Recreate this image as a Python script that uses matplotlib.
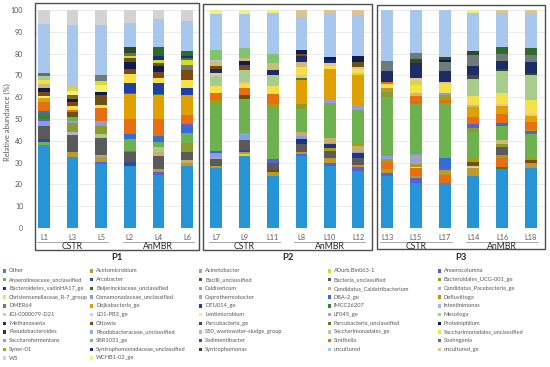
import matplotlib
matplotlib.use("Agg")
import matplotlib.pyplot as plt
from matplotlib.patches import Rectangle
from matplotlib.transforms import blended_transform_factory

plt.rcParams['font.family'] = ['Lato', 'DejaVu Sans']

# legend order (bottom -> top in the original stacking)
series = ["Other", "Acetomicrobium", "Acinetobacter", "ADurb.Bin063-1", "Anaerocolumna",
          "Anaerolineaceae_unclassified", "Arcobacter", "Bacilli_unclassified", "Bacteria_unclassified", "Bacteroidales_UCG-001_ge",
          "Bacteroidetes_vadinHA17_ge", "Beijerinckiaceae_unclassified", "Caldisericum", "Candidatus_Caldatribacterium", "Candidatus_Pacebacteria_ge",
          "Christensenellaceae_R-7_group", "Comamonadaceae_unclassified", "Coprothermobacter", "DBA-2_ge", "Defluviitoga",
          "DMER64", "Dojkabacteria_ge", "DTU014_ge", "IMCC26207", "Intestinimonas",
          "JGI-0000079-D21", "LD1-PB3_ge", "Lentimicrobium", "LF045_ge", "Mesotoga",
          "Methanosaeta", "Ottowia", "Parcubacteria_ge", "Parcubacteria_unclassified", "Proteiniphilum",
          "Pseudobacteroides", "Rhodobacteraceae_unclassified", "S50_wastewater-sludge_group", "Saccharimonadales_ge", "Saccharimonadales_unclassified",
          "Saccharofermentans", "SBR1031_ge", "Sedimentibacter", "Smithella", "Soehngenia",
          "Syner-01", "Syntrophomonadaceae_unclassified", "Syntrophomonas", "uncultured", "uncultured_ge",
          "W5", "WCHB1-02_ge"]

colors = ["#2794D8", "#B89B2C", "#A6A6A6", "#D4DC2A", "#5B5FD6",
          "#6DB24E", "#2E4A9E", "#6B5212", "#5A5A5A", "#8C9A2E",
          "#1F3480", "#2F6B2A", "#8E9CE6", "#C9AE6A", "#B3B3C4",
          "#F5E04A", "#7DA6E8", "#9DB98A", "#2F6FD6", "#C0940F",
          "#6E7B7B", "#E0A000", "#1F3FA8", "#3C7F35", "#A7B7E6",
          "#E6C596", "#D4D4D4", "#F2EE7A", "#9CA6E2", "#A8CC8E",
          "#1D2C66", "#7A4A12", "#474747", "#7F6A1E", "#121A52",
          "#24401C", "#93B2E6", "#CDBB7E", "#C2C2C2", "#EDE84A",
          "#9B9BE3", "#82C46E", "#2E4FC2", "#E86E12", "#6B6B6B",
          "#A2A012", "#1B2B86", "#2E4B22", "#A7C8EC", "#DCC392",
          "#D3D3D3", "#EEF08C"]

# relative abundance (%) per sample, segments listed bottom -> top
L1 = [("Other", 38), ("Anaerolineaceae_unclassified", 1.5), ("Arcobacter", 1.5), ("Bacteria_unclassified", 6),
      ("Caldisericum", 2), ("Anaerocolumna", 1), ("IMCC26207", 2.5), ("DBA-2_ge", 1), ("Smithella", 4.5),
      ("Dojkabacteria_ge", 1.5), ("Lentimicrobium", 1), ("Ottowia", 2), ("Proteiniphilum", 1.5),
      ("S50_wastewater-sludge_group", 2), ("Christensenellaceae_R-7_group", 2), ("Mesotoga", 1.5),
      ("Soehngenia", 1.5), ("uncultured", 22.5), ("W5", 6.5)]
L3 = [("Other", 32.5), ("Acetomicrobium", 2.5), ("Bacteria_unclassified", 7.5), ("Candidatus_Pacebacteria_ge", 1.5),
      ("Bacteroidales_UCG-001_ge", 4), ("Caldisericum", 1), ("Anaerolineaceae_unclassified", 2),
      ("Bacilli_unclassified", 2), ("Smithella", 1), ("Christensenellaceae_R-7_group", 2), ("Ottowia", 2),
      ("Proteiniphilum", 1), ("Parcubacteria_unclassified", 2), ("Lentimicrobium", 2), ("ADurb.Bin063-1", 1),
      ("Saccharimonadales_ge", 2), ("uncultured", 27), ("W5", 7)]
L5 = [("Other", 29.5), ("Anaerocolumna", 1), ("Acetomicrobium", 2), ("Acinetobacter", 1), ("Bacteria_unclassified", 8),
      ("Mesotoga", 1.5), ("Bacteroidales_UCG-001_ge", 4), ("Caldisericum", 1), ("Saccharofermentans", 1),
      ("Smithella", 6), ("Christensenellaceae_R-7_group", 1.5), ("Bacilli_unclassified", 2.5), ("Ottowia", 2),
      ("Proteiniphilum", 1.5), ("Lentimicrobium", 3), ("ADurb.Bin063-1", 2), ("DMER64", 2.5),
      ("uncultured", 23), ("W5", 7)]
L2 = [("Other", 28.5), ("Arcobacter", 2), ("Bacteria_unclassified", 4.5), ("DMER64", 0.5),
      ("Anaerolineaceae_unclassified", 5.5), ("DBA-2_ge", 2), ("Smithella", 7), ("Dojkabacteria_ge", 11.5),
      ("IMCC26207", 0.5), ("DTU014_ge", 4.5), ("Christensenellaceae_R-7_group", 4), ("Ottowia", 2.5),
      ("Proteiniphilum", 3), ("Bacilli_unclassified", 2), ("ADurb.Bin063-1", 1), ("Soehngenia", 1.5),
      ("Syntrophomonas", 2.5), ("uncultured", 11), ("W5", 6)]
L4 = [("Other", 24.5), ("Anaerocolumna", 1), ("Acetomicrobium", 1.5), ("Bacteria_unclassified", 6),
      ("Candidatus_Caldatribacterium", 2), ("Mesotoga", 2), ("Anaerolineaceae_unclassified", 2.5), ("DBA-2_ge", 2.5),
      ("Smithella", 8), ("Dojkabacteria_ge", 11), ("IMCC26207", 0.5), ("DTU014_ge", 5),
      ("Christensenellaceae_R-7_group", 2.5), ("Ottowia", 2.5), ("Proteiniphilum", 3), ("Bacilli_unclassified", 1),
      ("ADurb.Bin063-1", 1.5), ("Syntrophomonadaceae_unclassified", 2), ("Beijerinckiaceae_unclassified", 4),
      ("uncultured", 13), ("W5", 4)]
L6 = [("Other", 28.5), ("Acetomicrobium", 1.5), ("Candidatus_Caldatribacterium", 1), ("Bacteria_unclassified", 4),
      ("Bacteroidales_UCG-001_ge", 4), ("Anaerolineaceae_unclassified", 4.5), ("DBA-2_ge", 2.5), ("Anaerocolumna", 1.5),
      ("Smithella", 4.5), ("Dojkabacteria_ge", 9), ("DTU014_ge", 3), ("Christensenellaceae_R-7_group", 4),
      ("Ottowia", 4.5), ("DMER64", 2.5), ("ADurb.Bin063-1", 2), ("IMCC26207", 1),
      ("Syntrophomonadaceae_unclassified", 1), ("Beijerinckiaceae_unclassified", 2), ("uncultured", 14), ("W5", 5)]

L7 = [("Other", 27.5), ("Acetomicrobium", 1), ("Bacteria_unclassified", 3), ("Acinetobacter", 1), ("Caldisericum", 2),
      ("DBA-2_ge", 1), ("Anaerolineaceae_unclassified", 21.5), ("Syner-01", 1.5), ("Smithella", 3.5),
      ("Christensenellaceae_R-7_group", 3), ("Mesotoga", 4.5), ("JGI-0000079-D21", 1.5), ("Methanosaeta", 2),
      ("Ottowia", 1.5), ("S50_wastewater-sludge_group", 1.5), ("Saccharimonadales_ge", 1), ("SBR1031_ge", 4.5),
      ("uncultured", 16.5), ("WCHB1-02_ge", 2)]
L9 = [("Other", 33), ("ADurb.Bin063-1", 1), ("Acetomicrobium", 1), ("Arcobacter", 1), ("Bacteria_unclassified", 4.5),
      ("Comamonadaceae_unclassified", 3), ("Anaerolineaceae_unclassified", 15.5), ("Bacilli_unclassified", 2),
      ("Smithella", 3), ("Christensenellaceae_R-7_group", 2), ("JGI-0000079-D21", 1), ("Mesotoga", 5.5),
      ("Ottowia", 2.5), ("Proteiniphilum", 1.5), ("S50_wastewater-sludge_group", 1.5), ("SBR1031_ge", 4.5),
      ("uncultured", 15.5), ("WCHB1-02_ge", 2)]
L11 = [("Other", 24), ("Acetomicrobium", 1.5), ("Bacilli_unclassified", 1), ("Bacteria_unclassified", 3.5),
       ("Anaerocolumna", 1.5), ("Anaerolineaceae_unclassified", 24), ("Syner-01", 1.5), ("Smithella", 4.5),
       ("Christensenellaceae_R-7_group", 3.5), ("Mesotoga", 5), ("Methanosaeta", 2.5),
       ("S50_wastewater-sludge_group", 3), ("SBR1031_ge", 4.5), ("uncultured", 18.5), ("WCHB1-02_ge", 1.5)]
L8 = [("Other", 33), ("Anaerocolumna", 1), ("Acetomicrobium", 1), ("Bacteria_unclassified", 3.5),
      ("Bacteroidetes_vadinHA17_ge", 2.5), ("Caldisericum", 1), ("Candidatus_Caldatribacterium", 2),
      ("Anaerolineaceae_unclassified", 10.5), ("Bacteroidales_UCG-001_ge", 2.5), ("Dojkabacteria_ge", 11),
      ("IMCC26207", 1), ("JGI-0000079-D21", 1), ("Christensenellaceae_R-7_group", 4),
      ("S50_wastewater-sludge_group", 2), ("Methanosaeta", 3), ("Ottowia", 1), ("Proteiniphilum", 1.5),
      ("uncultured", 15.5), ("uncultured_ge", 3)]
L10 = [("Other", 28.5), ("Anaerocolumna", 1.5), ("Acetomicrobium", 2), ("Bacteria_unclassified", 3.5), ("Syner-01", 1),
       ("Bacteroidetes_vadinHA17_ge", 2), ("Caldisericum", 0.5), ("Candidatus_Caldatribacterium", 2.5),
       ("Anaerolineaceae_unclassified", 16), ("Saccharofermentans", 1), ("Dojkabacteria_ge", 14.5),
       ("Christensenellaceae_R-7_group", 1.5), ("JGI-0000079-D21", 1), ("Methanosaeta", 1.5),
       ("Proteiniphilum", 1.5), ("uncultured", 19.5), ("uncultured_ge", 2)]
L12 = [("Other", 26), ("Anaerocolumna", 2), ("Acetomicrobium", 1), ("Bacteria_unclassified", 3),
       ("Bacteroidetes_vadinHA17_ge", 2.5), ("Caldisericum", 0.5), ("Candidatus_Caldatribacterium", 2.5),
       ("Syner-01", 1), ("Anaerolineaceae_unclassified", 15.5), ("Saccharofermentans", 2), ("Dojkabacteria_ge", 14),
       ("ADurb.Bin063-1", 1), ("Christensenellaceae_R-7_group", 2), ("JGI-0000079-D21", 1),
       ("Bacilli_unclassified", 2), ("Proteiniphilum", 3), ("uncultured", 18.5), ("uncultured_ge", 2.5)]

L13 = [("Other", 24), ("Anaerocolumna", 1), ("Acetomicrobium", 2), ("Smithella", 3.5), ("Syner-01", 1),
       ("Saccharofermentans", 1.5), ("Anaerolineaceae_unclassified", 27), ("Bacteroidales_UCG-001_ge", 2.5),
       ("Acetomicrobium", 1.5), ("Christensenellaceae_R-7_group", 2), ("Smithella", 1), ("Methanosaeta", 5),
       ("DMER64", 4.5), ("uncultured", 23.5)]
L15 = [("Other", 20.5), ("Anaerocolumna", 2.5), ("Acetomicrobium", 1), ("Smithella", 3.5), ("JGI-0000079-D21", 0.5),
       ("Syner-01", 1.5), ("Saccharofermentans", 2), ("Acinetobacter", 1.5), ("Comamonadaceae_unclassified", 1),
       ("Anaerolineaceae_unclassified", 23), ("Smithella", 3.5), ("S50_wastewater-sludge_group", 1.5),
       ("Christensenellaceae_R-7_group", 3.5), ("ADurb.Bin063-1", 2), ("JGI-0000079-D21", 1.5),
       ("Methanosaeta", 6.5), ("Syntrophomonas", 2), ("DMER64", 3), ("uncultured", 19.5)]
L17 = [("Other", 20.5), ("Smithella", 4), ("Acetomicrobium", 2), ("Anaerocolumna", 1), ("DBA-2_ge", 4.5),
       ("Anaerolineaceae_unclassified", 25.5), ("Smithella", 1), ("Syner-01", 2.5), ("Caldisericum", 1),
       ("Christensenellaceae_R-7_group", 4), ("JGI-0000079-D21", 1), ("Methanosaeta", 5), ("DMER64", 4),
       ("Proteiniphilum", 1), ("Syntrophomonas", 1.5), ("uncultured", 21.5)]
L14 = [("Other", 24), ("Acetomicrobium", 3.5), ("JGI-0000079-D21", 1), ("Bacilli_unclassified", 2), ("Syner-01", 2),
       ("Anaerolineaceae_unclassified", 11.5), ("Bacteroidales_UCG-001_ge", 2), ("Anaerocolumna", 1.5),
       ("Smithella", 3.5), ("Dojkabacteria_ge", 4.5), ("S50_wastewater-sludge_group", 1),
       ("Christensenellaceae_R-7_group", 4), ("Mesotoga", 8), ("Parcubacteria_ge", 1.5), ("Methanosaeta", 4.5),
       ("DMER64", 5), ("Syntrophomonas", 1.5), ("uncultured", 17.5), ("WCHB1-02_ge", 1.5)]
L16 = [("Other", 27), ("IMCC26207", 1), ("Smithella", 4), ("Syner-01", 1.5), ("Bacteria_unclassified", 3.5),
       ("Bacteroidales_UCG-001_ge", 1.5), ("S50_wastewater-sludge_group", 2), ("Anaerolineaceae_unclassified", 6.5),
       ("DBA-2_ge", 1), ("Smithella", 4.5), ("Dojkabacteria_ge", 3.5), ("JGI-0000079-D21", 1),
       ("Christensenellaceae_R-7_group", 5), ("Mesotoga", 10), ("Syntrophomonas", 1), ("Methanosaeta", 3.5),
       ("DMER64", 3.5), ("Beijerinckiaceae_unclassified", 3), ("uncultured", 15.5), ("uncultured_ge", 1.5)]
L18 = [("Other", 27.5), ("Acetomicrobium", 2.5), ("Ottowia", 1), ("Syner-01", 1.5),
       ("Anaerolineaceae_unclassified", 10.5), ("Anaerocolumna", 1.5), ("Syner-01", 1), ("Smithella", 3),
       ("Dojkabacteria_ge", 3), ("JGI-0000079-D21", 1), ("Christensenellaceae_R-7_group", 6), ("Mesotoga", 11.5),
       ("Syntrophomonas", 1), ("Methanosaeta", 5), ("DMER64", 3.5), ("Beijerinckiaceae_unclassified", 3),
       ("uncultured", 16), ("uncultured_ge", 1.5)]

sample_labels = [["L1", "L3", "L5", "L2", "L4", "L6"],
                 ["L7", "L9", "L11", "L8", "L10", "L12"],
                 ["L13", "L15", "L17", "L14", "L16", "L18"]]
sample_data = [[L1, L3, L5, L2, L4, L6],
               [L7, L9, L11, L8, L10, L12],
               [L13, L15, L17, L14, L16, L18]]
panel_titles = ["P1", "P2", "P3"]
groups = ["CSTR", "AnMBR"]

color_of = dict(zip(series, colors))

W, H = 550, 367
fig = plt.figure(figsize=(5.5, 3.67), dpi=100)


def fx(px):
    return px / W


def fy(py):
    return 1 - py / H


# pixel geometry of the three boxes: left, top, right, bottom, first bar, last bar
boxes = [(35, 3, 199, 250, 44, 187),
         (203, 4, 372, 250, 216, 358.3),
         (377, 5, 545, 249, 387.3, 530.7)]
plot_top, plot_bot = 10, 228

for k in range(3):
    bl, bt, br, bb, c0, c5 = boxes[k]
    sp = (c5 - c0) / 5
    ax = fig.add_axes([fx(bl), fy(plot_bot), (br - bl) / W, (plot_bot - plot_top) / H])
    for i, segs in enumerate(sample_data[k]):
        bottom = 0
        for name, v in segs:
            ax.bar(i, v, bottom=bottom, width=0.41, color=color_of[name], linewidth=0)
            bottom += v
    ax.set_xlim(-(c0 - bl) / sp, 5 + (br - c5) / sp)
    ax.set_ylim(0, 100)
    ax.set_yticks(range(0, 101, 10))
    ax.yaxis.grid(True, color="#E3E3E3", lw=0.5)
    ax.set_axisbelow(True)
    for s in ax.spines.values():
        s.set_visible(False)
    ax.set_xticks([])
    ax.tick_params(axis="y", length=0, labelsize=5.0, labelcolor="#595959", pad=8.5)
    if k > 0:
        ax.set_yticklabels([])

    tr = blended_transform_factory(ax.transData, fig.transFigure)
    for i, lab in enumerate(sample_labels[k]):
        ax.text(i, fy(237.5), lab, transform=tr, ha="center", va="center",
                fontsize=5.3, color="#595959")
    for g in range(2):
        ax.plot([3 * g - 0.25, 3 * g + 2.25], [fy(241.5)] * 2, transform=tr,
                color="#9A9A9A", lw=0.6, clip_on=False)
        ax.text(3 * g + 1, fy(246.5), groups[g], transform=tr, ha="center", va="center",
                fontsize=6.3, color="#262626")

    fig.add_artist(Rectangle((fx(bl), fy(bb)), (br - bl) / W, (bb - bt) / H,
                             transform=fig.transFigure, fill=False, ec="#4D4D4D", lw=1.0))
    fig.text(fx((bl + br) / 2), fy(257), panel_titles[k], ha="center", va="center",
             fontsize=6.8, fontweight="bold", color="#262626")

fig.text(fx(7), fy(122), "Relative abundance (%)", rotation=90, ha="center", va="center",
         fontsize=5.5, color="#595959")

# legend, 5 columns, filled row by row
col_x = [3, 90, 199, 328, 438]
for j, name in enumerate(series):
    r, c = divmod(j, 5)
    x = col_x[c]
    y = 271 + 8.7 * r
    fig.add_artist(Rectangle((fx(x), fy(y + 1.7)), 3.4 / W, 3.4 / H, transform=fig.transFigure,
                             fc=color_of[name], ec="none"))
    fig.text(fx(x + 6), fy(y), name, ha="left", va="center", fontsize=4.15, color="#595959")

fig.savefig("out.png", dpi=100)
